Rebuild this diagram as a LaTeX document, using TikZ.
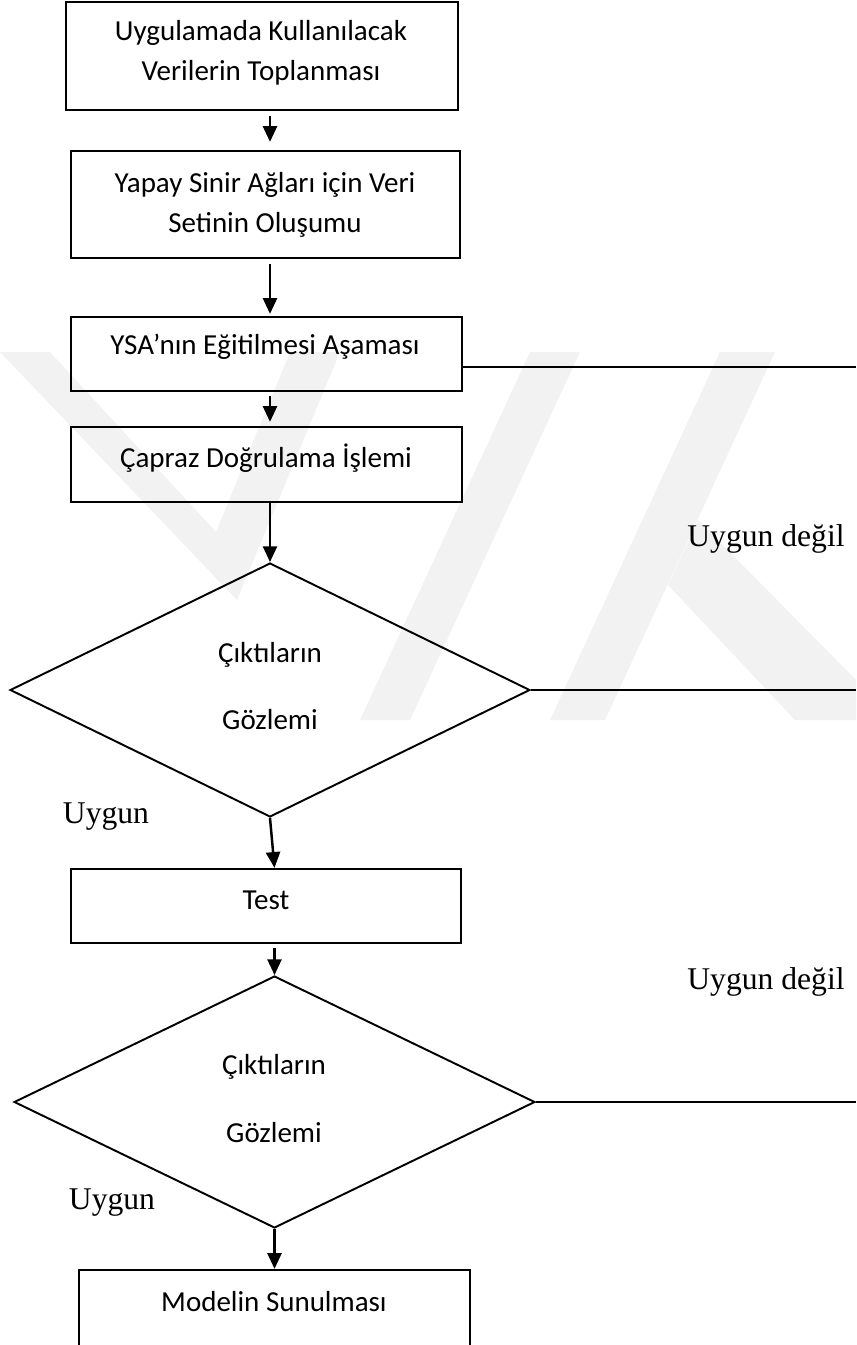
\documentclass[tikz,border=0pt]{standalone}
\usepackage{fontspec}
\setmainfont{Carlito}
\newfontfamily\labelserif{Liberation Serif}
\usetikzlibrary{arrows.meta,shapes.geometric}
\begin{document}
\begin{tikzpicture}[x=0.02cm,y=-0.02cm,
  box/.style={draw, line width=1.3pt, rectangle, inner sep=0pt},
  txt/.style={font=\fontsize{16.5}{22.8}\selectfont, align=center, inner sep=0pt},
  dtxt/.style={font=\fontsize{16.5}{38.6}\selectfont, align=center, inner sep=0pt},
  lbl/.style={font=\labelserif\fontsize{18}{21.6}\selectfont, inner sep=0pt},
  dec/.style={draw, line width=1.1pt, diamond, inner sep=0pt},
  arr/.style={line width=1.4pt, -{Triangle[length=9pt,width=8pt]}},
  wire/.style={line width=1.2pt},
  wmfill/.style={fill=black!5, draw=none}]

\useasboundingbox (0,0) rectangle (856,1345);
\clip (0,0) rectangle (856,1345);

% faint background emblem
\begin{scope}
  \clip (0,352) rectangle (856,720);
  \fill[wmfill] (0,352) -- (50,352) -- (216,532) -- (290,352) -- (340,352) -- (237,600) -- cycle;
  \fill[wmfill] (530,352) -- (580,352) -- (410,720) -- (360,720) -- cycle;
  \fill[wmfill] (720,352) -- (775,352) -- (605,720) -- (550,720) -- cycle;
  \fill[wmfill] (698,520) -- (856,680) -- (856,720) -- (795,720) -- (668,585) -- cycle;
\end{scope}

% process boxes
\node[box, minimum width=7.84cm, minimum height=2.16cm] (b1) at (262,56) {};
\node[box, minimum width=7.78cm, minimum height=2.14cm] (b2) at (265.5,204.5) {};
\node[box, minimum width=7.82cm, minimum height=1.48cm] (b3) at (266.5,354) {};
\node[box, minimum width=7.82cm, minimum height=1.50cm] (b4) at (266.5,464.5) {};
\node[box, minimum width=7.80cm, minimum height=1.48cm] (b5) at (266,906) {};
\node[box, minimum width=7.82cm, minimum height=1.80cm] (b6) at (274.5,1315) {};

% box texts
\node[txt] (t1) at (261,53) {Uygulamada Kullanılacak\\Verilerin Toplanması};
\node[txt] (t2) at (265,205) {Yapay Sinir Ağları için Veri\\Setinin Oluşumu};
\node[txt] (t3) at (265,347) {YSA’nın Eğitilmesi Aşaması};
\node[txt] (t4) at (266,458) {Çapraz Doğrulama İşlemi};
\node[txt] (t5) at (266,900) {Test};
\node[txt] (t6) at (274,1302) {Modelin Sunulması};

% decisions
\node[dec, minimum width=10.4cm, minimum height=5.08cm] (d1) at (270,690) {};
\node[dec, minimum width=10.42cm, minimum height=5.04cm] (d2) at (274.5,1102) {};
\node[dtxt] (dt1) at (270,686) {Çıktıların\\Gözlemi};
\node[dtxt] (dt2) at (274,1098.5) {Çıktıların\\Gözlemi};

% branch labels
\node[lbl] (l1) at (766,539) {Uygun değil};
\node[lbl] (l2) at (106,817) {Uygun};
\node[lbl] (l3) at (766,982) {Uygun değil};
\node[lbl] (l4) at (112,1203) {Uygun};

% loose ends of the return lines
\coordinate (r1) at (856,367);
\coordinate (r2) at (856,690);
\coordinate (r3) at (856,1102);

% main flow
\draw[arr, shorten <=0.1cm, shorten >=0.16cm] (b1.south -| d1.north) -- (b2.north -| d1.north);
\draw[arr, shorten <=0.1cm, shorten >=0.04cm] (b2.south -| d1.north) -- (b3.north -| d1.north);
\draw[arr, shorten <=0.08cm, shorten >=0.08cm] (b3.south -| d1.north) -- (b4.north -| d1.north);
\draw[arr] (b4.south -| d1.north) -- (d1.north);
\draw[arr] (d1.south) -- (b5.north -| d2.north);
\draw[arr, shorten <=0.08cm] (b5.south -| d2.north) -- (d2.north);
\draw[arr] (d2.south) -- (b6.north -| d2.north);

% return lines
\draw[wire] (b3.east |- r1) -- (r1);
\draw[wire] (d1.east) -- (r2);
\draw[wire] (d2.east) -- (r3);
\end{tikzpicture}
\end{document}
